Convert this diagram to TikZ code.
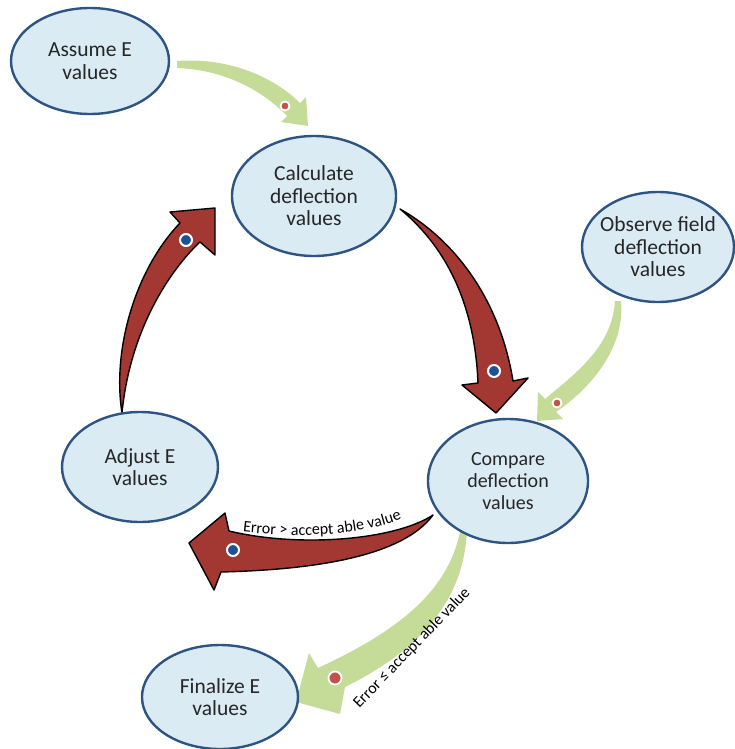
\documentclass[tikz,border=0pt]{standalone}
\usepackage{fontspec}
\setmainfont{Carlito}
\usetikzlibrary{shapes.geometric, decorations.text}

\definecolor{bubblefill}{RGB}{218,235,244}
\definecolor{bubbleline}{RGB}{45,84,130}
\definecolor{loopred}{RGB}{163,55,50}
\definecolor{sidegreen}{RGB}{196,220,152}
\definecolor{dotblue}{RGB}{30,82,150}
\definecolor{dotred}{RGB}{196,82,76}

\begin{document}
\begin{tikzpicture}[
        x=1pt, y=-1pt,
        bubble/.style={ellipse, draw=bubbleline, line width=2.4pt, fill=bubblefill, inner sep=0pt},
        bubble text/.style={align=center, text=black!85, font=\fontsize{21.5}{22.5}\selectfont},
        arrow label/.style={inner sep=0pt, font=\fontsize{16}{18}\selectfont},
        red arrow/.style={fill=loopred, draw=black, line width=1.4pt, line join=round},
        green arrow/.style={fill=sidegreen},
        blue dot/.style={fill=dotblue, draw=white, line width=2pt},
        red dot/.style={fill=dotred, draw=white, line width=1.8pt}
    ]
    \useasboundingbox (0,0) rectangle (734,749);

    %% green arrows (inputs and exit)
    \fill[green arrow] (177,61) .. controls (230,57) and (275,78) .. (300,103)
        -- (306,97) -- (308,126) -- (281,122) -- (287,116)
        .. controls (265,93) and (228,70) .. (177,68) -- cycle;
    \fill[green arrow] (621,301) .. controls (625,345) and (595,385) .. (556,412)
        -- (563,419) -- (537,421) -- (538,392) -- (545,399)
        .. controls (580,370) and (612,345) .. (615,301) -- cycle;
    \fill[green arrow] (467,528) .. controls (465,600) and (420,650) .. (345,687)
        -- (340,714) -- (296,702) -- (309,653) -- (318,668)
        .. controls (400,630) and (450,590) .. (461,527) -- cycle;

    %% red loop arrows
    \draw[red arrow] (400,209) .. controls (455,240) and (500,300) .. (513,381)
        -- (528,378) -- (496,413) -- (462,385) -- (478,383)
        .. controls (475,310) and (450,250) .. cycle;
    \draw[red arrow] (433,515) .. controls (395,540) and (300,548) .. (229,531)
        -- (225,513) -- (189,543) -- (214,590) -- (221,572)
        .. controls (300,570) and (400,560) .. cycle;
    \draw[red arrow] (122,413) .. controls (112,350) and (135,270) .. (180,223)
        -- (170,212) -- (215,208) -- (215,255) -- (200,242)
        .. controls (170,270) and (130,330) .. cycle;

    %% dots
    \draw[blue dot] (494,371) circle (6);
    \draw[blue dot] (233,550) circle (6);
    \draw[blue dot] (186,240) circle (6);
    \draw[red dot] (285,106) circle (4.5);
    \draw[red dot] (557,403) circle (4.5);
    \draw[red dot] (335,678) circle (6.5);

    %% labels on the exit arrows
    \path[decorate, decoration={text along path, text align=center,
        text={|\fontsize{16}{18}\selectfont|Error > accept able value}}]
        (236,531) .. controls (290,538) and (360,538) .. (408,516);
    \node[arrow label, rotate=46, anchor=base] (stoplabel) at (415,651) {Error ≤ accept able value};

    %% bubbles
    \node[bubble, minimum width=158, minimum height=106] (assume) at (90,61) {};
    \node[bubble text] at (assume) {Assume E\\values};
    \node[bubble, minimum width=164, minimum height=120] (calc) at (314,196) {};
    \node[bubble text] at (calc) {Calculate\\deflection\\values};
    \node[bubble, minimum width=152, minimum height=110] (observe) at (658,247) {};
    \node[bubble text] at (observe) {Observe field\\deflection\\values};
    \node[bubble, minimum width=160, minimum height=124] (compare) at (508,481) {};
    \node[bubble text, font=\fontsize{20}{22}\selectfont] at (compare) {Compare\\deflection\\values};
    \node[bubble, minimum width=156, minimum height=110] (adjust) at (140,467) {};
    \node[bubble text] at (adjust) {Adjust E\\values};
    \node[bubble, minimum width=156, minimum height=104] (final) at (220,697) {};
    \node[bubble text] at (final) {Finalize E\\values};

\end{tikzpicture}
\end{document}
